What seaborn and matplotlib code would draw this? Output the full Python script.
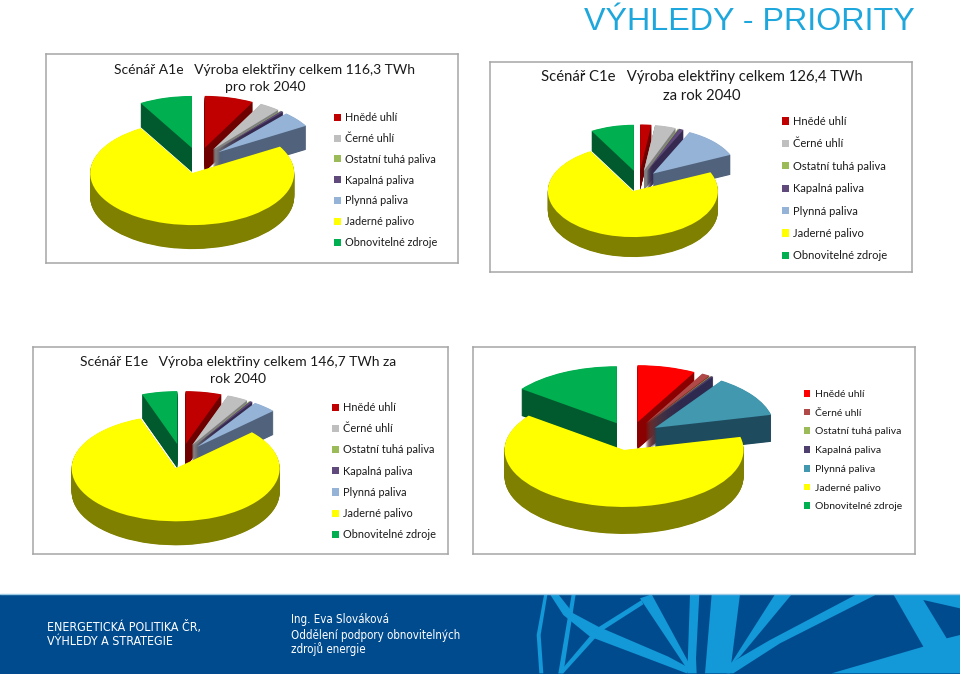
import matplotlib
matplotlib.use("Agg")
import matplotlib.pyplot as plt
import seaborn as sns

sns.set_theme(style="white")
plt.rcParams['font.family'] = ['Lato', 'DejaVu Sans']

W, H = 960, 674

# legend labels, same for all charts
labels = ["Hnědé uhlí", "Černé uhlí", "Ostatní tuhá paliva", "Kapalná paliva",
          "Plynná paliva", "Jaderné palivo", "Obnovitelné zdroje"]

# shares (percent of production)
vals_a = [7.8, 3.3, 0.1, 0.4, 4.9, 75.1, 8.4]
vals_c = [2.1, 4.0, 0.1, 0.9, 11.2, 73.4, 8.3]
vals_e = [5.6, 3.3, 0.1, 0.4, 3.7, 81.4, 5.5]
vals_x = [7.9, 1.1, 0.1, 0.3, 11.9, 63.9, 14.7]

title_a = "Scénář A1e   Výroba elektřiny celkem 116,3 TWh\npro rok 2040"
title_c = "Scénář C1e   Výroba elektřiny celkem 126,4 TWh\nza rok 2040"
title_e = "Scénář E1e   Výroba elektřiny celkem 146,7 TWh za\nrok 2040"

top_cols = sns.color_palette(["#c00000", "#bfbfbf", "#9bbb59", "#604a7b", "#95b3d7", "#ffff00", "#00b050"])
side_cols = sns.color_palette(["#6e0000", "#808080", "#5f7335", "#362a50", "#50627c", "#808000", "#005a2e"])
top_cols2 = sns.color_palette(["#ff0000", "#b04a48", "#9bbb59", "#4f3f6f", "#4198af", "#ffff00", "#00b050"])
side_cols2 = sns.color_palette(["#8b0000", "#7a2c2a", "#5f7335", "#2e2a50", "#1f4b5f", "#808000", "#005a2e"])


fig = plt.figure(figsize=(W / 100, H / 100), dpi=100, facecolor="white")


def px_rect(l, t, r, b):
    return [l / W, 1 - b / H, (r - l) / W, (b - t) / H]


# background: footer band with the decoration
bg = fig.add_axes([0, 0, 1, 1], zorder=0)
bg.set_xlim(0, W)
bg.set_ylim(H, 0)
bg.axis("off")
bg.fill_between([0, W], 594, H, color="#004b8e", lw=0)
bg.plot([0, W], [594, 594], color="#9ecbe6", lw=1)

shapes = [
    [(1090, 28), (1290, 28), (1290, 265), (905, 265), (1180, 185)],
    [(545, 28), (630, 28), (600, 265), (525, 265)],
    [(480, 28), (508, 28), (498, 220), (500, 265), (472, 265)],
    [(735, 28), (785, 28), (630, 215), (600, 240)],
    [(980, 28), (1040, 28), (750, 175), (610, 265), (590, 265), (600, 235), (720, 165)],
    [(330, 40), (365, 28), (480, 240), (470, 250)],
    [(60, 28), (85, 28), (130, 85), (205, 125), (415, 215), (480, 250), (470, 265), (180, 155), (100, 90)],
    [(335, 45), (200, 130), (85, 265), (100, 265), (215, 138), (340, 58)],
    [(42, 30), (52, 30), (32, 150), (40, 265), (28, 265), (20, 150)],
    [(125, 28), (137, 28), (100, 265), (85, 265)],
]
for s in shapes:
    bg.fill([530 + p[0] / 3 for p in s], [585 + p[1] / 3 for p in s], color="#1398d8", lw=0)
s = [(1180, 45), (1290, 70), (1290, 150), (1250, 160)]
bg.fill([530 + p[0] / 3 for p in s], [585 + p[1] / 3 for p in s], color="#004b8e", lw=0)

foot_font = ['DejaVu Sans']
bg.text(47, 627, "ENERGETICKÁ POLITIKA ČR,", color="white", fontsize=8.9, va="center", family=foot_font, stretch="condensed")
bg.text(47, 641.5, "VÝHLEDY A STRATEGIE", color="white", fontsize=8.9, va="center", family=foot_font, stretch="condensed")
bg.text(291, 620, "Ing. Eva Slováková", color="white", fontsize=8.3, va="center", family=foot_font, stretch="condensed")
bg.text(291, 635, "Oddělení podpory obnovitelných", color="white", fontsize=8.3, va="center", family=foot_font, stretch="condensed")
bg.text(291, 649.5, "zdrojů energie", color="white", fontsize=8.3, va="center", family=foot_font, stretch="condensed")

bg.text(749, 22, "VÝHLEDY - PRIORITY", color="#1ea7dd", fontsize=23.2, ha="center", va="center", family=['Liberation Sans'])


def pie3d(vals, box, cx, cy, a, b, depth, expl, tops, sides, title=None, title_xy=None,
          title_size=10, leg_xy=None, leg_gap=20, leg_size=8):
    l, t, r, bt = box
    ax = fig.add_axes(px_rect(l, t, r, bt), zorder=2)
    ex = [expl] * len(vals)
    # side walls: the same pie stacked downward in the dark colours
    n = int(depth * 2)
    for k in range(n, 0, -1):
        ax.pie(vals, explode=ex, colors=sides, startangle=90, counterclock=False,
               center=(0, -k / n * depth / b), wedgeprops=dict(lw=0))
    w, _ = ax.pie(vals, explode=ex, colors=tops, startangle=90, counterclock=False,
                  center=(0, 0), wedgeprops=dict(lw=0))
    ax.set_aspect("auto")
    ax.set_xlim((l - cx) / a, (r - cx) / a)
    ax.set_ylim((cy - bt) / b, (cy - t) / b)
    ax.set_frame_on(True)
    for sp in ax.spines.values():
        sp.set_visible(True)
        sp.set_color("#a6a6a6")
        sp.set_linewidth(1.1)
    ax.set_xticks([])
    ax.set_yticks([])

    if title:
        fig.text(title_xy[0] / W, 1 - title_xy[1] / H, title, fontsize=title_size, color="#1a1a1a",
                 ha="center", va="center", linespacing=1.45, zorder=5)
    # seven entries, squares in the palette colours
    fs_px = leg_size * 100 / 72
    fig.legend(w, labels, loc="upper left", bbox_to_anchor=(leg_xy[0] / W, 1 - leg_xy[1] / H),
               frameon=False, fontsize=leg_size, labelcolor="#1a1a1a", borderpad=0, borderaxespad=0,
               handlelength=0.62, handleheight=0.62, handletextpad=0.4,
               labelspacing=(leg_gap - fs_px) / fs_px)


pie3d(vals_a, (46, 54, 458, 263), 198.6, 160.5, 102, 52, 24, 0.25, top_cols, side_cols,
      title_a, (265, 78.5), 10, (334, 112), 20.7, 7.8)
pie3d(vals_c, (490, 62, 912, 272), 638.9, 181, 85, 46, 20, 0.23, top_cols, side_cols,
      title_c, (702, 86.5), 10.7, (782, 116), 22.5, 8)
pie3d(vals_e, (33, 347, 448, 554), 181.4, 456.3, 104, 53, 24, 0.233, top_cols, side_cols,
      title_e, (238, 370.5), 10, (332, 402), 21.2, 7.9)
pie3d(vals_x, (473, 347, 915, 554), 630.2, 436, 119.5, 57, 27, 0.25, top_cols2, side_cols2,
      None, None, 10, (804, 390), 20.1, 7.5)

fig.savefig("out.png", dpi=100)
